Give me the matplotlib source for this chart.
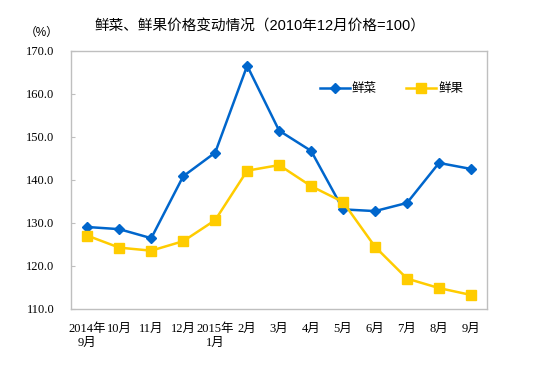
import matplotlib
matplotlib.use("Agg")
import matplotlib.pyplot as plt

categories = ["2014年\n9月", "10月", "11月", "12月", "2015年\n1月", "2月", "3月",
              "4月", "5月", "6月", "7月", "8月", "9月"]
vegetables = [129.0, 128.5, 126.4, 140.8, 146.3, 166.5, 151.4, 146.7, 133.1, 132.7, 134.6, 143.9, 142.5]
fruits = [127.0, 124.2, 123.5, 125.7, 130.6, 142.1, 143.4, 138.5, 134.8, 124.4, 117.0, 114.8, 113.2]
yticks = [110, 120, 130, 140, 150, 160, 170]

serif = ["Liberation Serif", "Noto Sans CJK SC"]
sans = ["Liberation Sans", "Noto Sans CJK SC"]
plt.rcParams['font.family'] = serif

fig = plt.figure(figsize=(5.51, 3.78), dpi=100)
ax = fig.add_axes([0.1294, 0.1833, 0.7544, 0.6826])
x = list(range(len(categories)))
ax.plot(x, vegetables, color="#0066CC", lw=1.8, marker="D", markersize=5.5, label="鲜菜")
ax.plot(x, fruits, color="#FFCC00", lw=1.8, marker="s", markersize=7, label="鲜果")

ax.set_xlim(-0.5, len(categories) - 0.5)
ax.set_ylim(110, 170)
ax.set_yticks(yticks)
ax.set_yticklabels([f"{v:.1f}" for v in yticks], fontsize=9)
ax.set_xticks(x)
ax.set_xticklabels(categories, fontsize=9, linespacing=1.25)
ax.tick_params(axis="x", length=0, pad=10)
ax.tick_params(axis="y", direction="in", length=3, color="#BFBFBF", pad=12)
for s in ax.spines.values():
    s.set_color("#BFBFBF")
    s.set_linewidth(1)

leg = ax.legend(loc="upper right", bbox_to_anchor=(0.955, 0.893), ncol=2, frameon=False,
                prop={"family": sans, "size": 9}, handlelength=2.4, columnspacing=2.3,
                handletextpad=0.2, borderaxespad=0)

fig.text(0.472, 0.93, "鲜菜、鲜果价格变动情况（2010年12月价格=100）", ha="center", va="center",
         fontsize=10.5, family=sans)
fig.text(0.076, 0.912, "（%）", ha="center", va="center", fontsize=8.5, family=sans)

fig.savefig("out.png", dpi=100)
